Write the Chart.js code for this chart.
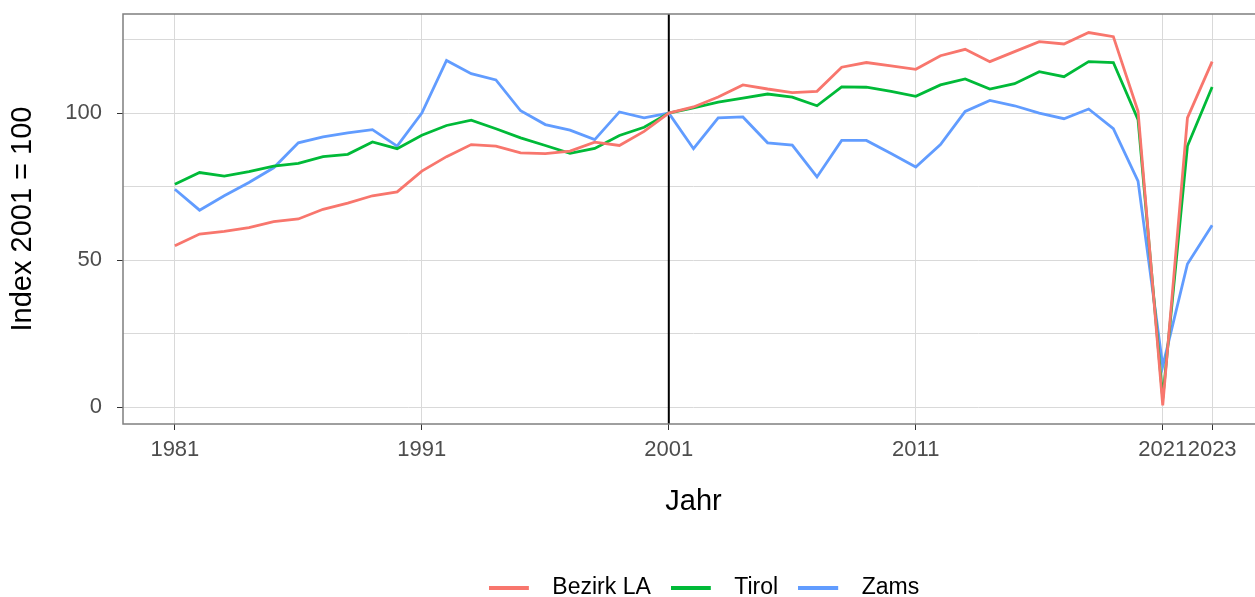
<!DOCTYPE html>
<html>
<head>
<meta charset="utf-8">
<script src="https://cdn.jsdelivr.net/npm/chart.js@4"></script>
<style>
  html, body { margin: 0; padding: 0; background: #fff; }
  #wrap { width: 1255px; height: 597px; overflow: hidden; position: relative; }
  #box { width: 1408px; height: 609px; position: absolute; left: 0; top: 0; }
</style>
</head>
<body>
<div id="wrap"><div id="box"><canvas id="myChart"></canvas></div></div>
<script>
const years = [1981, 1982, 1983, 1984, 1985, 1986, 1987, 1988, 1989, 1990,
  1991, 1992, 1993, 1994, 1995, 1996, 1997, 1998, 1999, 2000,
  2001, 2002, 2003, 2004, 2005, 2006, 2007, 2008, 2009, 2010,
  2011, 2012, 2013, 2014, 2015, 2016, 2017, 2018, 2019, 2020,
  2021, 2022, 2023];

const bezirkLA = [54.9, 58.9, 59.8, 61.1, 63.1, 64.0, 67.3, 69.4, 71.9, 73.2,
  80.3, 85.2, 89.3, 88.8, 86.5, 86.2, 87.1, 90.1, 89.0, 93.8,
  100, 102.1, 105.5, 109.6, 108.2, 107.0, 107.4, 115.6, 117.2, 116.1,
  114.9, 119.5, 121.7, 117.5, 120.9, 124.3, 123.5, 127.4, 126.0, 100.6,
  0.6, 98.4, 117.5];

const tirol = [75.8, 79.8, 78.6, 80.1, 82.0, 82.9, 85.2, 86.0, 90.2, 87.9,
  92.5, 95.8, 97.6, 94.7, 91.6, 89.0, 86.3, 88.0, 92.4, 95.2,
  100, 101.8, 103.7, 105.1, 106.5, 105.4, 102.5, 108.9, 108.8, 107.4,
  105.7, 109.6, 111.6, 108.2, 110.0, 114.1, 112.4, 117.5, 117.2, 97.8,
  3.0, 88.8, 108.9];

const zams = [74.1, 67.0, 71.9, 76.4, 81.4, 89.9, 91.9, 93.3, 94.4, 88.8,
  100.0, 117.9, 113.4, 111.3, 100.8, 96.1, 94.2, 91.0, 100.4, 98.4,
  100, 87.9, 98.4, 98.7, 89.9, 89.1, 78.3, 90.7, 90.7, 86.3,
  81.7, 89.3, 100.6, 104.3, 102.5, 100.0, 98.1, 101.4, 94.7, 76.9,
  14.0, 48.7, 61.9];

const seriesNames = ['Bezirk LA', 'Tirol', 'Zams'];
const xTicks = [1981, 1991, 2001, 2011, 2021, 2023];
const yGrid = [0, 25, 50, 75, 100, 125];
const yLabels = [0, 50, 100];
const refYear = 2001;

const colors = ['#F8766D', '#00BA38', '#619CFF'];
const font = 'Liberation Sans, Arial, sans-serif';

// legend key: short line with some space after it
function keyLine(color) {
  const c = document.createElement('canvas');
  c.width = 52; c.height = 4;
  const g = c.getContext('2d');
  g.fillStyle = color;
  g.fillRect(0, 0, 40, 4);
  return c;
}

function toPoints(vals) {
  return vals.map((v, i) => ({ x: years[i], y: v }));
}

const panel = {
  id: 'panel',
  afterLayout(chart) {
    // legend is centred on the whole (wider) figure, not the padded box
    chart.legend.left += 72;
    chart.legend.right += 72;
  },
  beforeDatasetsDraw(chart) {
    const { ctx, chartArea, scales } = chart;
    const x = scales.x.getPixelForValue(refYear);
    ctx.save();
    ctx.strokeStyle = '#000';
    ctx.lineWidth = 2;
    ctx.beginPath();
    ctx.moveTo(x, chartArea.top);
    ctx.lineTo(x, chartArea.bottom);
    ctx.stroke();
    ctx.restore();
  },
  afterDraw(chart) {
    const { ctx, chartArea } = chart;
    ctx.save();
    ctx.strokeStyle = '#7f7f7f';
    ctx.lineWidth = 1.5;
    ctx.strokeRect(chartArea.left, chartArea.top, chartArea.right - chartArea.left, chartArea.bottom - chartArea.top);
    ctx.restore();
  }
};

const ctx = document.getElementById('myChart');

new Chart(ctx, {
  type: 'line',
  data: {
    datasets: [bezirkLA, tirol, zams].map((vals, i) => ({
      label: seriesNames[i],
      data: toPoints(vals),
      borderColor: colors[i],
      backgroundColor: colors[i],
      borderWidth: 2.8,
      pointRadius: 0,
      pointStyle: keyLine(colors[i]),
      tension: 0
    }))
  },
  options: {
    responsive: true,
    maintainAspectRatio: false,
    animation: false,
    layout: { padding: { left: 0, right: 144, top: 14, bottom: 0 } },
    plugins: {
      tooltip: { enabled: false },
      legend: {
        position: 'bottom',
        labels: {
          usePointStyle: true,
          pointStyleWidth: 52,
          boxHeight: 4,
          padding: 20,
          color: '#000',
          font: { family: font, size: 23 }
        }
      }
    },
    scales: {
      x: {
        type: 'linear',
        min: 1978.9,
        max: 2025.1,
        afterBuildTicks: s => { s.ticks = xTicks.map(v => ({ value: v })); },
        afterFit: s => { s.height = 132; s.paddingLeft = 0; s.paddingRight = 0; },
        border: { display: false },
        grid: { color: '#d9d9d9', lineWidth: 1, drawTicks: true, tickLength: 6, tickColor: '#333' },
        ticks: {
          autoSkip: false, maxRotation: 0, padding: 7,
          color: '#4d4d4d', font: { family: font, size: 22 },
          callback: v => String(v)
        },
        title: {
          display: true, text: 'Jahr', color: '#000',
          font: { family: font, size: 29 },
          padding: { top: 0, bottom: 37 }
        }
      },
      y: {
        min: -5.7,
        max: 133.7,
        afterBuildTicks: s => { s.ticks = yGrid.map(v => ({ value: v })); },
        afterFit: s => { s.width = 123; s.paddingTop = 0; s.paddingBottom = 0; },
        border: { display: false },
        grid: {
          color: '#d9d9d9', lineWidth: 1, tickLength: 6,
          tickColor: c => (c.tick && yLabels.includes(c.tick.value)) ? '#333' : 'rgba(0,0,0,0)'
        },
        ticks: {
          padding: 15, color: '#4d4d4d', font: { family: font, size: 22 },
          callback: v => yLabels.includes(v) ? String(v) : ''
        },
        title: {
          display: true, text: 'Index 2001 = 100', color: '#000',
          font: { family: font, size: 29 },
          padding: { top: 6, bottom: 0 }
        }
      }
    }
  },
  plugins: [panel]
});
</script>
</body>
</html>
